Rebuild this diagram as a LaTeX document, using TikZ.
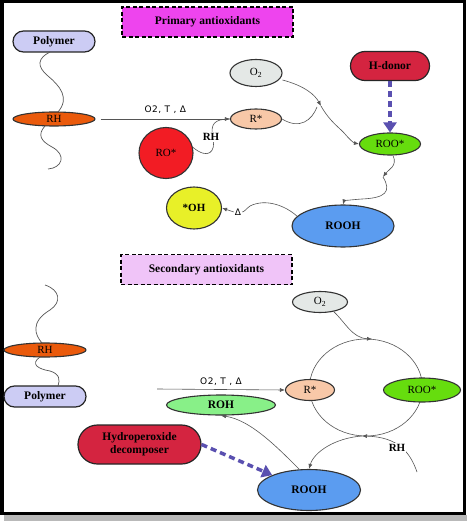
\documentclass[tikz,border=0pt]{standalone}
\usepackage{fontspec}
\setmainfont{Liberation Serif}
\newfontfamily\labfont[LetterSpace=6]{DejaVu Sans}
\usetikzlibrary{shapes.geometric,shapes.misc,arrows.meta}
\definecolor{cPrim}{HTML}{EE44EE}
\definecolor{cSec}{HTML}{F0C4F8}
\definecolor{cPoly}{HTML}{CCCCF4}
\definecolor{cRH}{HTML}{EA5A0C}
\definecolor{cOtwo}{HTML}{E4E8E6}
\definecolor{cRstar}{HTML}{F8C8A8}
\definecolor{cROO}{HTML}{66DD0E}
\definecolor{cDonor}{HTML}{D42440}
\definecolor{cROOH}{HTML}{5B9CF0}
\definecolor{cOH}{HTML}{E8F028}
\definecolor{cRO}{HTML}{F21C24}
\definecolor{cROH}{HTML}{88F088}
\definecolor{cDash}{HTML}{5A50B0}
\definecolor{cLine}{HTML}{555555}
\tikzset{
  ell/.style={ellipse, draw=black!80, line width=1.1pt, inner sep=0pt, font=\fontsize{11}{12}\selectfont},
  pill/.style={rounded rectangle, draw=black!85, line width=1.2pt, inner sep=0pt, font=\fontsize{11.5}{12}\selectfont\bfseries},
  titlebox/.style={rectangle, draw=black, line width=1.1pt, dash pattern=on 4pt off 2.5pt, inner sep=0pt, minimum width=171pt, minimum height=30pt, font=\fontsize{11.5}{12}\selectfont\bfseries},
  conn/.style={draw=cLine, line width=0.6pt},
  arr/.style={conn, -{Latex[length=5pt,width=4pt]}},
  wave/.style={draw=cLine, line width=0.7pt},
  bigdash/.style={draw=cDash, line width=3.5pt, dash pattern=on 6pt off 4pt, -{Triangle[length=10pt,width=13pt]}},
  cond/.style={font=\labfont\fontsize{9}{10}\selectfont, inner sep=1pt},
  lab/.style={font=\fontsize{11}{12}\selectfont\bfseries, inner sep=1pt, fill=white},
}
\begin{document}
\begin{tikzpicture}[x=1pt,y=-1pt]
\useasboundingbox (0,0) rectangle (467,521);
\fill[white] (0,0) rectangle (467,521);
% frame
\fill[gray!55] (4,515) rectangle (467,521);
\draw[line width=3.5pt, black] (1.75,1.75) rectangle (464.5,513.5);

% ===== top section =====
\node[titlebox, fill=cPrim] (prim) at (207.5,22) {Primary antioxidants};
\node[pill, fill=cPoly, minimum width=82pt, minimum height=21pt] (polyA) at (54,41.5) {Polymer};
\node[ell, fill=cRH, minimum width=82pt, minimum height=14pt, font=\fontsize{11}{12}\selectfont] (rhA) at (54,119) {RH};
\coordinate (wA1) at (50,52);
\coordinate (wA2) at (58,112);
\coordinate (wA3) at (45,126);
\coordinate (wA4) at (48,169);
\draw[wave] (wA1) .. controls (38,58) and (36,66) .. (48,76) .. controls (60,86) and (70,98) .. (wA2);
\draw[wave] (wA3) .. controls (37,135) and (41,141) .. (52,147) .. controls (67,155) and (62,168) .. (wA4);

\node[ell, fill=cOtwo, minimum width=52pt, minimum height=27pt] (o2A) at (256,73) {O\textsubscript{2}};
\node[ell, fill=cRstar, minimum width=51pt, minimum height=20pt] (rsA) at (256,119) {R*};
\node[ell, fill=cRO, minimum width=54pt, minimum height=51pt] (ro) at (166,153) {RO*};
\node[ell, fill=cOH, minimum width=55pt, minimum height=42pt, font=\fontsize{11}{12}\selectfont\bfseries] (oh) at (194,208) {*OH};
\node[ell, fill=cROO, minimum width=61pt, minimum height=22pt] (rooA) at (390,144) {ROO*};
\node[pill, fill=cDonor, minimum width=79pt, minimum height=29pt] (donor) at (390,66) {H-donor};
\node[ell, fill=cROOH, minimum width=102pt, minimum height=42pt, font=\fontsize{11.5}{12}\selectfont\bfseries] (roohA) at (343,226) {ROOH};

\draw[arr] (rhA.east) ++(5,0) coordinate (rhAe) -- node[cond, above=4pt] {O2, T , Δ} (rsA.west);
\draw[conn] (ro.12) .. controls (208,160) and (216,152) .. (213,138) .. controls (210,124) and (214,119) .. (rsA.west);
\node[lab] (rhlabA) at (211,137) {RH};
\coordinate (jA) at (321,106);
\draw[arr] (o2A.east) ++(0,7) .. controls (305,86) and (315,95) .. (jA);
\draw[arr] (jA) .. controls (330,122) and (340,128) .. (345,134) .. controls (350,140) and (354,143) .. (rooA.west);
\draw[conn] (rsA.east) .. controls (300,130) and (312,120) .. (317,107);
\draw[bigdash] (donor.south) -- (rooA.north);
\coordinate (jB) at (383,177);
\draw[arr] (rooA.south) ++(3,0) .. controls (398,166) and (388,170) .. (jB);
\draw[arr] (jB) .. controls (392,192) and (385,198) .. (362,199) .. controls (348,200) and (344,201) .. (roohA.north);
\node[cond, fill=white] (delta) at (238,212) {Δ};
\draw[conn] (roohA.168) .. controls (286,206) and (266,198) .. (250,206) .. controls (246,209) and (244,212) .. (delta.east);
\draw[arr] (delta.west) -- (oh.east);

% ===== bottom section =====
\node[titlebox, fill=cSec] (sec) at (206.5,269.5) {Secondary antioxidants};
\node[ell, fill=cRH, minimum width=82pt, minimum height=14pt] (rhB) at (45,350) {RH};
\node[pill, fill=cPoly, minimum width=82pt, minimum height=21pt] (polyB) at (45,396.5) {Polymer};
\coordinate (wB1) at (45,285);
\coordinate (wB2) at (42,343);
\coordinate (wB3) at (40,357);
\coordinate (wB4) at (58,386);
\draw[wave] (wB1) .. controls (60,290) and (62,302) .. (50,310) .. controls (30,322) and (35,335) .. (wB2);
\draw[wave] (wB3) .. controls (30,364) and (38,369) .. (50,371) .. controls (60,374) and (60,380) .. (wB4);

\draw[conn] (366,387.5) ellipse [x radius=56.5pt, y radius=48.5pt];
\node[ell, fill=cOtwo, minimum width=55pt, minimum height=21pt] (o2B) at (320,302) {O\textsubscript{2}};
\node[ell, fill=cRstar, minimum width=49pt, minimum height=21pt] (rsB) at (310,390) {R*};
\node[ell, fill=cROO, minimum width=77pt, minimum height=24pt] (rooB) at (422,390) {ROO*};
\node[ell, fill=cROH, minimum width=109pt, minimum height=20pt, font=\fontsize{11.5}{12}\selectfont\bfseries] (roh) at (221,405) {ROH};
\node[pill, fill=cDonor, minimum width=123pt, minimum height=39pt, align=center, font=\fontsize{11.5}{13}\selectfont\bfseries] (hpd) at (139.5,444.5) {Hydroperoxide\\decomposer};
\node[ell, fill=cROOH, minimum width=103pt, minimum height=41pt, font=\fontsize{11.5}{12}\selectfont\bfseries] (roohB) at (309,490) {ROOH};

\coordinate (lineS) at (157,389);
\draw[arr] (lineS) -- node[cond, above=3pt, pos=0.5] {O2, T , Δ} (rsB.west);
\coordinate (cTop) at (372,339);
\draw[arr] (o2B.-35) .. controls (345,322) and (352,338) .. (cTop);
\coordinate (cBot) at (362,436);
\coordinate (rhS) at (417,472);
\draw[arr] (rhS) .. controls (410,452) and (398,437) .. (cBot);
\node[lab] (rhlabB) at (397,448) {RH};
\draw[arr] (cBot) .. controls (335,438) and (314,452) .. (roohB.north);
\draw[arr] (roohB.115) .. controls (275,445) and (250,420) .. (roh.south);
\draw[bigdash] (hpd.east) -- (roohB.158);
\end{tikzpicture}
\end{document}
